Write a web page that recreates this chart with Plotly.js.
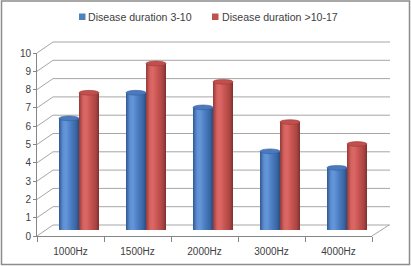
<!DOCTYPE html>
<html>
<head>
<meta charset="utf-8">
<script src="https://cdn.plot.ly/plotly-3.0.1.min.js"></script>
<style>
  html, body { margin: 0; padding: 0; background: #ffffff; }
  #chart { width: 411px; height: 266px; }
</style>
</head>
<body>
<div id="chart"></div>
<script>
// ---- data ----
const categories = ['1000Hz', '1500Hz', '2000Hz', '3000Hz', '4000Hz'];
const seriesNames = ['Disease duration 3-10', 'Disease duration >10-17'];
const seriesColors = ['#4f81bd', '#c0504d'];
const durationShort = [6.1, 7.5, 6.7, 4.3, 3.4];
const durationLong = [7.5, 9.1, 8.1, 5.9, 4.7];
const yTickValues = [0, 1, 2, 3, 4, 5, 6, 7, 8, 9, 10];

// ---- geometry helpers (pixel -> paper) ----
const W = 411, H = 266;
const X = px => px / W;
const Y = py => 1 - py / H;
const FRONT0 = 236, BACK0 = 225, PXU = 18.3;
const FRONT_L = 37, FRONT_R = 372, BACK_L = 53, BACK_R = 390;
const yFront = v => FRONT0 - PXU * v;
const yBack = v => BACK0 - PXU * v;

const font = { family: 'Liberation Sans, Arial, sans-serif', size: 10, color: '#404040' };
const gridColor = '#a6a6a6';
const BAR_W = 0.2985;   // half of a group (bargap below)
const CAP = 0.13;       // ellipse half-height in value units

const traces = [
  { type: 'bar', name: seriesNames[0], x: categories, y: durationShort,
    marker: { color: seriesColors[0], line: { width: 0 } }, xaxis: 'x', yaxis: 'y', hoverinfo: 'skip' },
  { type: 'bar', name: seriesNames[1], x: categories, y: durationLong,
    marker: { color: seriesColors[1], line: { width: 0 } }, xaxis: 'x', yaxis: 'y', hoverinfo: 'skip' },
  { type: 'scatter', mode: 'markers', x: categories, y: categories.map(() => null),
    xaxis: 'x2', yaxis: 'y2', showlegend: false, hoverinfo: 'skip' }
];

const shapes = [];
// chart border
shapes.push({ type: 'rect', xref: 'paper', yref: 'paper', x0: X(1.5), x1: X(409.5), y0: Y(1), y1: Y(264.5),
  line: { color: '#8c8c8c', width: 1.5 }, layer: 'below' });
// back wall gridlines + left wall diagonals
yTickValues.forEach(v => {
  shapes.push({ type: 'line', xref: 'paper', yref: 'paper', x0: X(BACK_L), x1: X(BACK_R), y0: Y(yBack(v)), y1: Y(yBack(v)),
    line: { color: gridColor, width: 1 }, layer: 'below' });
  shapes.push({ type: 'line', xref: 'paper', yref: 'paper', x0: X(FRONT_L), x1: X(BACK_L), y0: Y(yFront(v)), y1: Y(yBack(v)),
    line: { color: gridColor, width: 1 }, layer: 'below' });
});
// right floor edge
shapes.push({ type: 'line', xref: 'paper', yref: 'paper', x0: X(FRONT_R), x1: X(BACK_R - 1), y0: Y(yFront(0)), y1: Y(yBack(0)),
  line: { color: gridColor, width: 1 }, layer: 'below' });

// legend keys
const legendKeyX = [79, 212];
const legendTextX = [87, 221];
seriesNames.forEach((n, s) => {
  shapes.push({ type: 'rect', xref: 'paper', yref: 'paper', x0: X(legendKeyX[s]), x1: X(legendKeyX[s] + 6.5),
    y0: Y(20), y1: Y(13.5), fillcolor: seriesColors[s], line: { width: 0 } });
});

// cylinder bottoms and tops, from the data
const bottomIdx = [[], []];
[durationShort, durationLong].forEach((vals, s) => {
  vals.forEach((v, i) => {
    const x0 = s === 0 ? i - BAR_W : i;
    const x1 = s === 0 ? i : i + BAR_W;
    bottomIdx[s].push(shapes.length);
    shapes.push({ type: 'circle', xref: 'x', yref: 'y', x0: x0, x1: x1, y0: -CAP, y1: CAP,
      fillcolor: s === 0 ? '#3d6aa8' : '#a84442', line: { width: 0 }, layer: 'below' });
  });
});
[durationShort, durationLong].forEach((vals, s) => {
  vals.forEach((v, i) => {
    const x0 = s === 0 ? i - BAR_W : i;
    const x1 = s === 0 ? i : i + BAR_W;
    shapes.push({ type: 'circle', xref: 'x', yref: 'y', x0: x0, x1: x1, y0: v - CAP, y1: v + CAP,
      fillcolor: s === 0 ? '#4a79bd' : '#c24f4c',
      line: { color: s === 0 ? '#34609c' : '#9a3c3a', width: 0.6 }, layer: 'above' });
  });
});

const annotations = seriesNames.map((n, s) => ({
  xref: 'paper', yref: 'paper', x: X(legendTextX[s]), y: Y(17), xanchor: 'left', yanchor: 'middle',
  text: n, showarrow: false, borderpad: 0, font: { family: font.family, size: 10.6, color: '#404040' }
}));

const layout = {
  width: W, height: H,
  margin: { l: 0, r: 0, t: 0, b: 0, pad: 0 },
  paper_bgcolor: '#ffffff', plot_bgcolor: 'rgba(0,0,0,0)',
  font: font,
  barmode: 'group', bargap: 0.403, bargroupgap: 0,
  showlegend: false,
  xaxis: { domain: [X(45.5), X(380.5)], type: 'category', categoryarray: categories, categoryorder: 'array',
    range: [-0.5, 4.5], visible: false, fixedrange: true, anchor: 'y' },
  yaxis: { domain: [Y(230), Y(230 - PXU * 10)], range: [0, 10], visible: false, fixedrange: true, anchor: 'x' },
  xaxis2: { domain: [X(FRONT_L), X(FRONT_R)], anchor: 'y2', type: 'category', categoryarray: categories, categoryorder: 'array',
    range: [-0.5, 4.5], tickson: 'boundaries', ticks: 'outside', ticklen: 5, tickcolor: '#868686', tickwidth: 1,
    ticklabelstandoff: 6,
    showline: true, linecolor: '#868686', linewidth: 1, showgrid: false, zeroline: false,
    tickfont: font, fixedrange: true },
  yaxis2: { domain: [Y(yFront(0)), Y(yFront(10))], anchor: 'x2', range: [0, 10], tickmode: 'array', tickvals: yTickValues,
    ticks: 'outside', ticklen: 3, tickcolor: '#868686', showline: true, linecolor: '#868686', linewidth: 1,
    showgrid: false, zeroline: false, tickfont: font, fixedrange: true },
  shapes: shapes,
  annotations: annotations
};

Plotly.newPlot('chart', traces, layout, { staticPlot: true, displayModeBar: false }).then(gd => {
  const NS = 'http://www.w3.org/2000/svg';
  const defs = gd.querySelector('.main-svg defs');
  function grad(id, stops) {
    const g = document.createElementNS(NS, 'linearGradient');
    g.setAttribute('id', id);
    g.setAttribute('x1', '0'); g.setAttribute('y1', '0'); g.setAttribute('x2', '1'); g.setAttribute('y2', '0');
    stops.forEach(([o, c]) => {
      const s = document.createElementNS(NS, 'stop');
      s.setAttribute('offset', o); s.setAttribute('stop-color', c);
      g.appendChild(s);
    });
    defs.appendChild(g);
  }
  grad('cylBlue', [[0, '#2f5891'], [0.2, '#5f8fd3'], [0.35, '#6496da'], [0.6, '#4b7cc1'], [0.85, '#3a66a3'], [1, '#2a4d80']]);
  grad('cylRed', [[0, '#923a38'], [0.2, '#d7625f'], [0.35, '#dc6865'], [0.6, '#c55350'], [0.85, '#a84442'], [1, '#7e302e']]);
  const ids = ['cylBlue', 'cylRed'];
  gd.querySelectorAll('.barlayer .trace').forEach((t, k) => {
    t.querySelectorAll('.point path').forEach(p => { p.style.fill = 'url(#' + ids[k] + ')'; });
  });
  gd.querySelectorAll('.shapelayer path').forEach(p => {
    const idx = +p.getAttribute('data-index');
    if (bottomIdx[0].includes(idx)) p.style.fill = 'url(#cylBlue)';
    if (bottomIdx[1].includes(idx)) p.style.fill = 'url(#cylRed)';
  });
});
</script>
</body>
</html>
